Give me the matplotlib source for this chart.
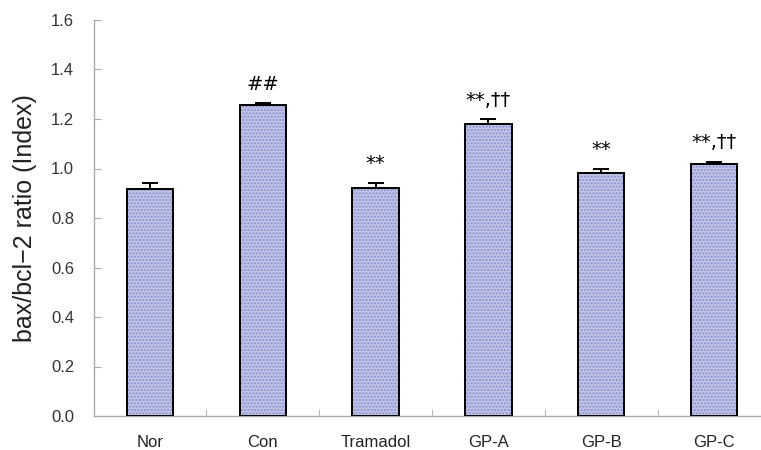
import matplotlib
matplotlib.use("Agg")
import matplotlib.pyplot as plt
import numpy as np

plt.rcParams['font.family'] = ['Liberation Sans', 'DejaVu Sans']

# bax/bcl-2 ratio per group (mean, upper error)
groups = ['Nor', 'Con', 'Tramadol', 'GP-A', 'GP-B', 'GP-C']
ratio = [0.916, 1.257, 0.920, 1.178, 0.980, 1.019]
err = [0.024, 0.006, 0.022, 0.020, 0.020, 0.008]
marks = ['', '##', '**', '**,\u2020\u2020', '**', '**,\u2020\u2020']

fig = plt.figure(figsize=(7.61, 4.5), dpi=100)
# right edge of the plot area runs past the figure border
ax = fig.add_axes([93.5 / 761, 34 / 450, 677 / 761, 396 / 450])

x = np.arange(len(groups))
w = 0.41
# dotted fill underneath, black outline on top
ax.bar(x, ratio, width=w, color='#bfc3e8', edgecolor='#8a91cc',
       hatch='.....', linewidth=0, zorder=2)
ax.bar(x, ratio, width=w, fill=False, edgecolor='black', linewidth=1.4, zorder=3)
ax.errorbar(x, ratio, yerr=[np.zeros(len(err)), err], fmt='none',
            ecolor='black', elinewidth=1.4, capsize=6, capthick=1.4, zorder=4)

for xi, r, e, m in zip(x, ratio, err, marks):
    if m:
        ax.annotate(m, (xi, r + e), xytext=(0, 7), textcoords='offset points',
                    ha='center', va='bottom', fontsize=14, family=['DejaVu Sans'])

ax.set_xlim(-0.5, len(groups) - 0.5)
ax.set_ylim(0, 1.6)
ax.set_yticks(np.arange(0, 1.61, 0.2))
ax.set_yticklabels(['%.1f' % v for v in np.arange(0, 1.61, 0.2)])
ax.set_xticks(x)
ax.set_xticklabels(groups)
ax.set_xticks(x[:-1] + 0.5, minor=True)
ax.tick_params(axis='x', which='major', length=0, pad=14, labelsize=12,
               labelcolor='#222222')
ax.tick_params(axis='x', which='minor', direction='in', length=5, color='#aaaaaa')
ax.tick_params(axis='y', direction='in', length=5, color='#aaaaaa', labelsize=12,
               labelcolor='#333333', pad=14)

for s in ['top', 'right']:
    ax.spines[s].set_visible(False)
for s in ['left', 'bottom']:
    ax.spines[s].set_color('#aaaaaa')
    ax.spines[s].set_linewidth(1)

ax.set_ylabel('bax/bcl\u22122 ratio (Index)', fontsize=18, labelpad=10,
              color='#222222')

fig.savefig('out.png', dpi=100)
